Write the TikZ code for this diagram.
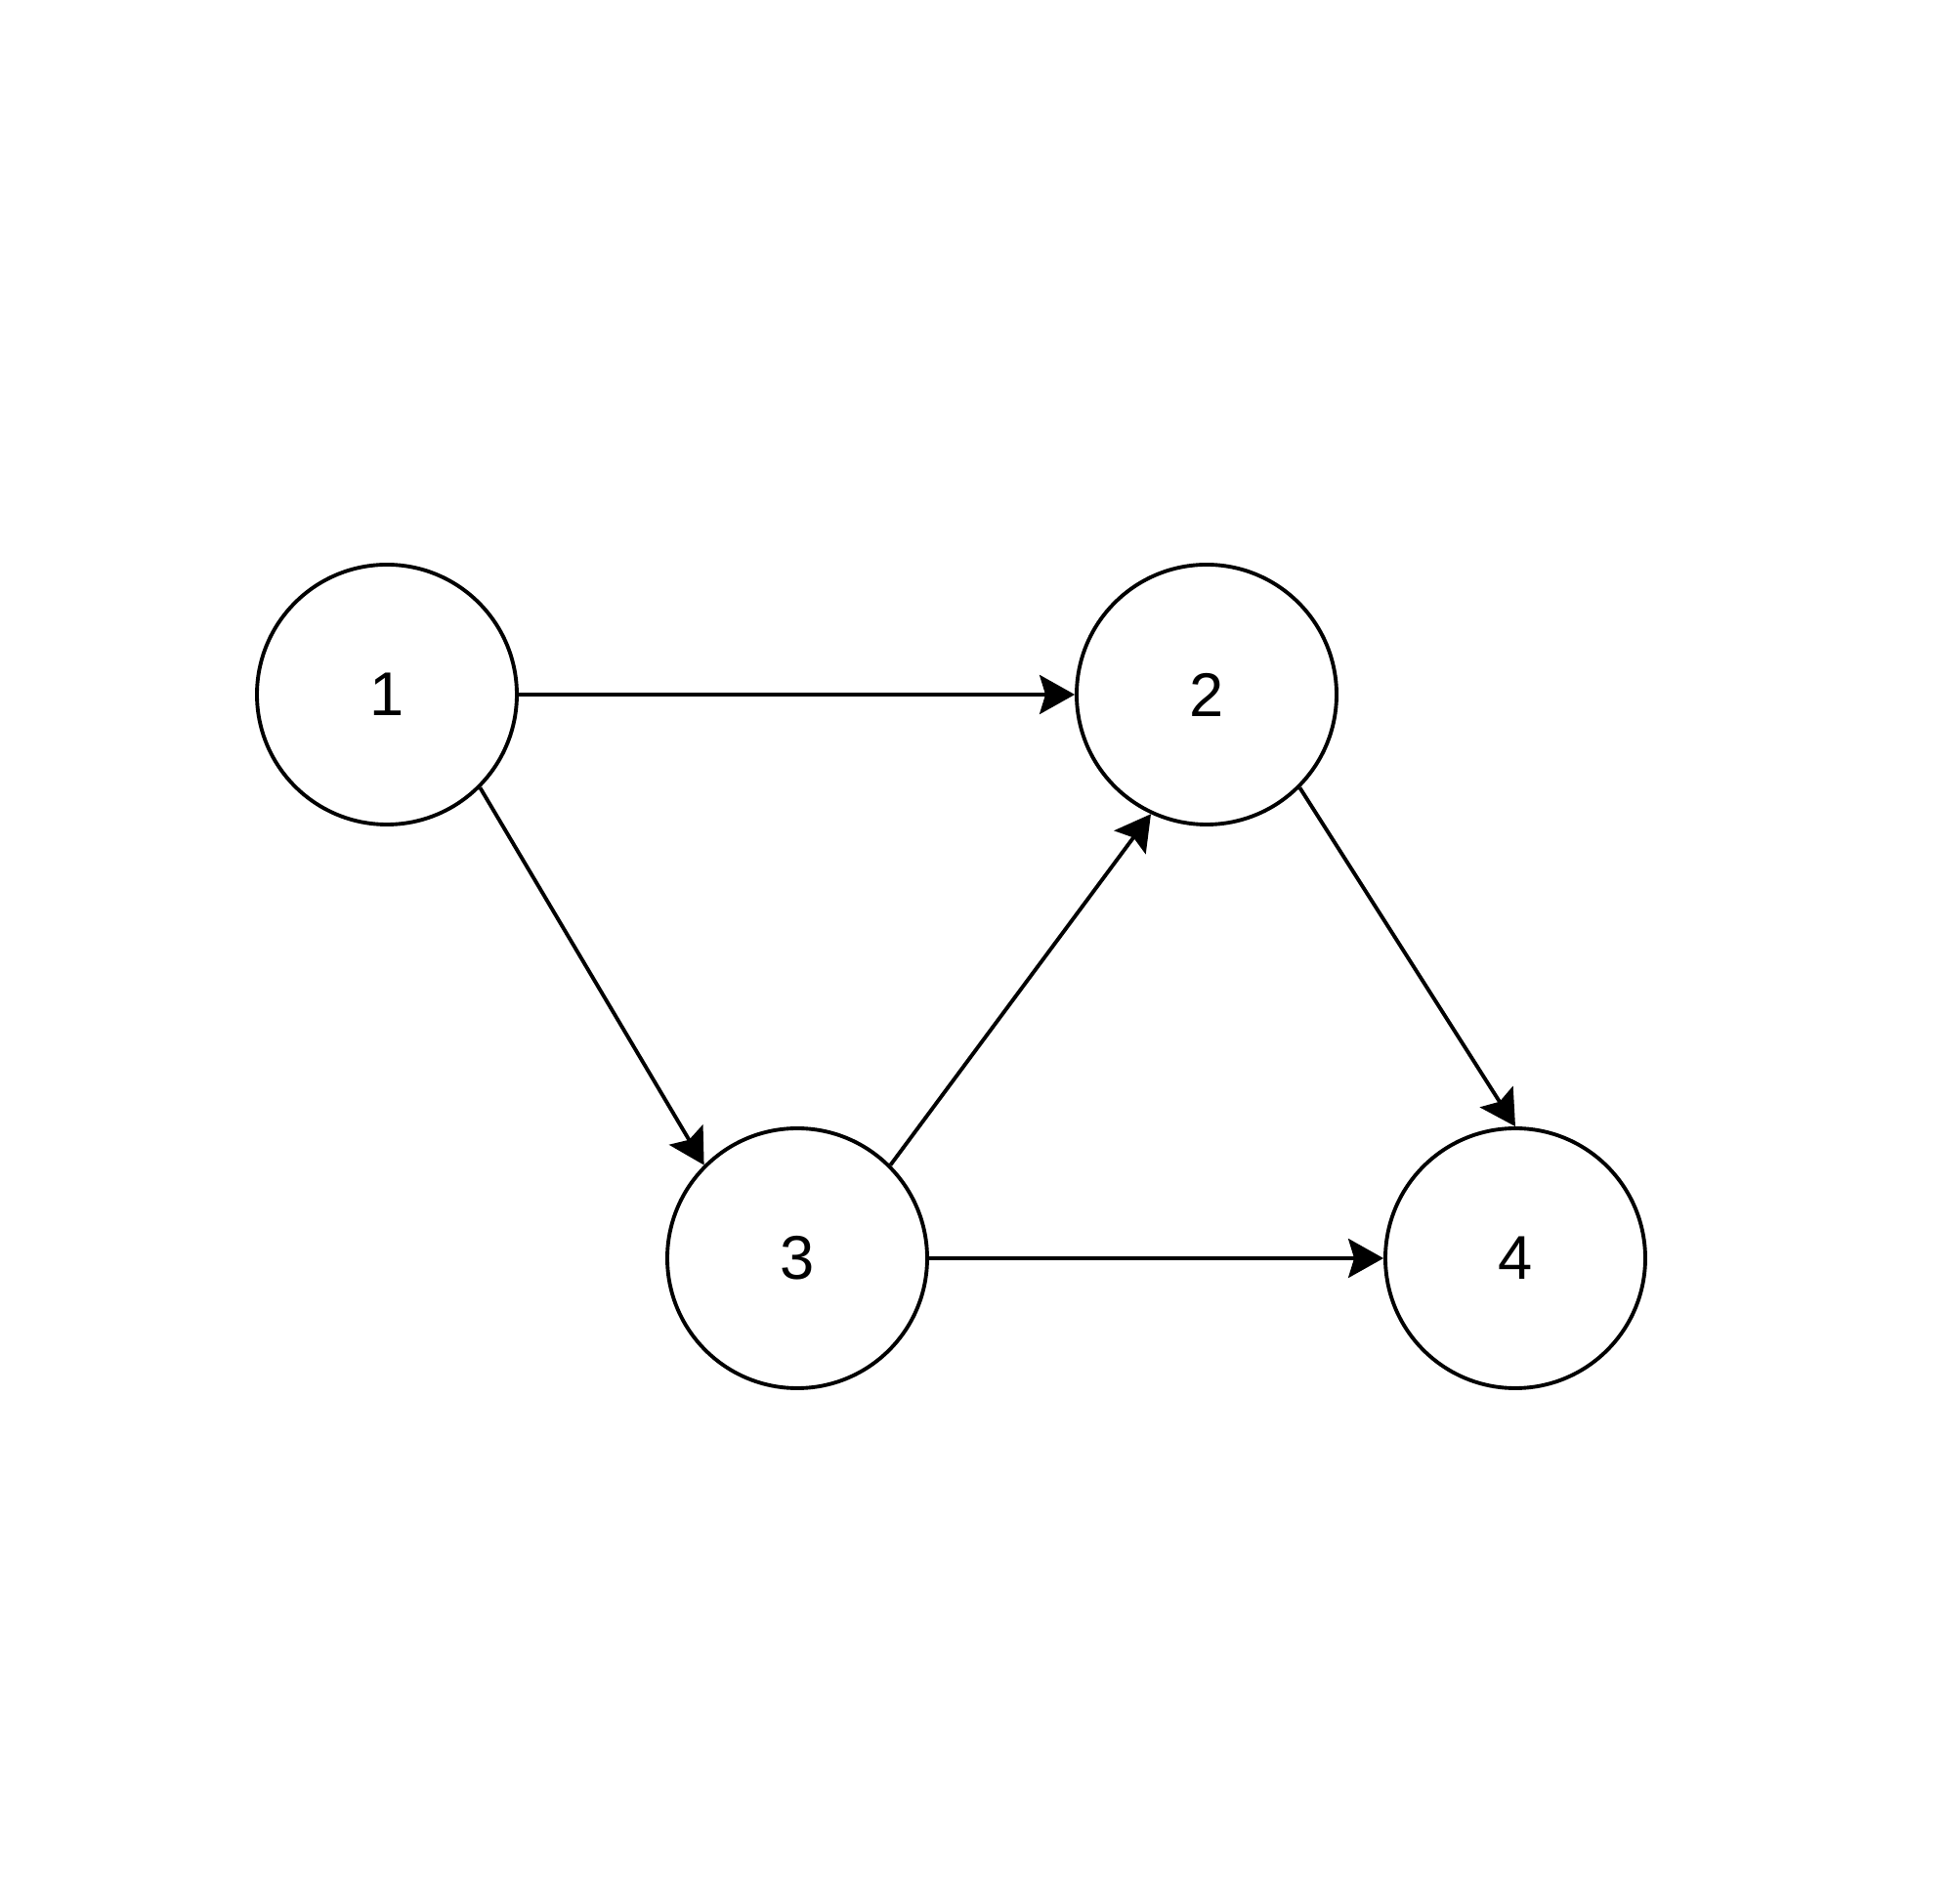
\documentclass[tikz,border=0pt]{standalone}
\usepackage{fontspec}
\setmainfont{Liberation Sans}
\usetikzlibrary{arrows.meta}
\tikzset{
	sommet/.style={circle, draw, line width=1.1pt, minimum size=2.66cm, inner sep=0pt, font=\fontsize{18}{20}\selectfont},
	arc/.style={line width=1.1pt, -{Stealth[length=0.36cm, width=0.4cm, inset=0.06cm]}}
}
\begin{document}
\begin{tikzpicture}
	\useasboundingbox (0,0) rectangle (20,19.48);
	\def\yhaut{12.37};
	\def\ybas{6.60};
	\node[sommet] (s1) at (3.96,\yhaut) {1};
	\node[sommet] (s2) at (12.35,\yhaut) {2};
	\node[sommet] (s3) at (8.16,\ybas) {3};
	\node[sommet] (s4) at (15.51,\ybas) {4};
	\draw[arc] (s1) -- (s2);
	\draw[arc] (s1.-45) -- (s3.135);
	\draw[arc] (s3.45) -- (s2.245);
	\draw[arc] (s2.-45) -- (s4.north);
	\draw[arc] (s3) -- (s4);
\end{tikzpicture}
\end{document}
